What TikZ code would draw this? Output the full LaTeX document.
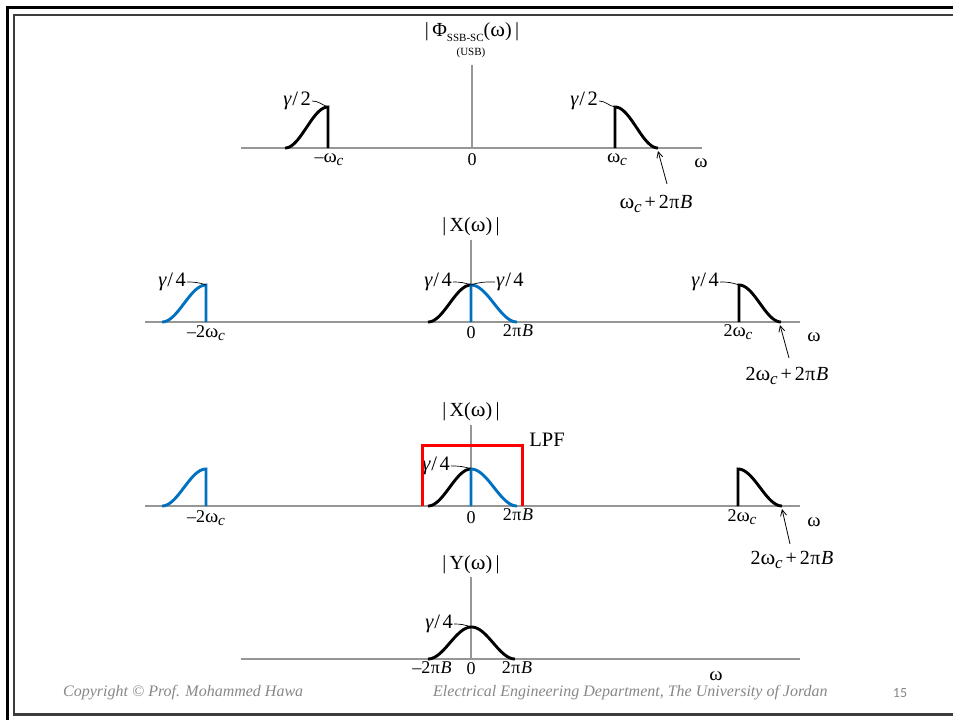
\documentclass[tikz,border=0pt]{standalone}
\usepackage{fontspec}
\setmainfont{Liberation Serif}
\newfontfamily\numfont{Carlito}
\usetikzlibrary{arrows.meta}
\definecolor{axisgray}{RGB}{150,150,150}
\definecolor{sigblue}{RGB}{0,112,192}
\definecolor{lpfred}{RGB}{255,0,0}
\definecolor{footgray}{RGB}{135,135,135}
\definecolor{innerframe}{RGB}{60,60,60}
\newcommand\om{\scalebox{1.12}[1.05]{ω}}
\newcommand\wc{\om\kern-0.3pt\raisebox{-0.18em}{\itshape\scalebox{0.85}{c}}}
\newcommand\gam[1]{{\itshape γ}\kern1pt/\kern2.5pt#1}
\newcommand\tpB{2\kern0.5pt π\kern0.5pt{\itshape B}}
\begin{document}
\begin{tikzpicture}[x=1pt,y=-1pt,
  axis/.style={draw=axisgray,line width=1.3pt},
  sig/.style={draw=black,line width=2.9pt},
  bsig/.style={draw=sigblue,line width=2.9pt},
  lpf/.style={draw=lpfred,line width=3pt},
  leader/.style={draw=black,line width=0.7pt},
  pointer/.style={draw=black,line width=0.8pt,-{Straight Barb[length=6pt,width=6pt]}},
  tick/.style={font=\fontsize{18}{20}\selectfont,inner sep=0pt},
  glab/.style={font=\fontsize{20.5}{22}\selectfont,inner sep=0pt},
  plab/.style={font=\fontsize{20}{22}\selectfont,inner sep=0pt},
  ttl/.style={font=\fontsize{20}{22}\selectfont,inner sep=0pt},
  foot/.style={font=\fontsize{16}{18}\selectfont\itshape,text=footgray,inner sep=0pt},
]
\useasboundingbox (0,0) rectangle (953,720);
% frame
\draw[line width=3pt] (7.5,720) -- (7.5,7.5) -- (953,7.5);
\draw[innerframe,line width=2.2pt] (953,14.8) -- (14,14.8) -- (14,714.5) -- (953,714.5);

% ---------------- panel 1
\draw[axis] (241,148) -- (702,148);
\draw[axis] (472,148) -- (472,65);
\node[ttl] (t1) at (472,32) {|\,Φ\raisebox{-0.25em}{\fontsize{11}{12}\selectfont SSB-SC}(\om)\,|};
\node[font=\fontsize{11}{12}\selectfont,inner sep=0pt] (usb) at (471,53) {(USB)};
\draw[sig] plot[domain=0:1,samples=40,variable=\t] ({285+43*\t},{148-41*(1-cos(180*\t))/2}) -- (328,148);
\draw[sig] (615,148) -- plot[domain=0:1,samples=40,variable=\t] ({615+43*\t},{107+41*(1-cos(180*\t))/2});
\coordinate (pk1a) at (328,107);
\coordinate (pk1b) at (615,107);
\node[glab,anchor=east] (g1a) at (311,101) {\gam{2}};
\node[glab,anchor=east] (g1b) at (598,101) {\gam{2}};
\draw[leader] ([xshift=1pt]g1a.east) to[out=0,in=160] (pk1a);
\draw[leader] ([xshift=1pt]g1b.east) to[out=0,in=170] (pk1b);
\node[tick] (m1) at (329,160) {–\wc};
\node[tick] (z1) at (472,160) {0};
\node[tick] (p1) at (617,160) {\wc};
\node[tick] (o1) at (701,163) {\om};
\coordinate (e1) at (658,151);
\coordinate (s1) at (667,184);
\node[plab] (l1) at (656,204) {\wc\kern3pt+\kern3pt\tpB};
\draw[pointer] (s1) -- (e1);

% ---------------- panel 2
\draw[axis] (145,322) -- (800,322);
\draw[axis] (471,322) -- (471,240);
\node[ttl] (t2) at (471,227) {|\,X(\om)\,|};
\draw[bsig] plot[domain=0:1,samples=40,variable=\t] ({162+44*\t},{322-37*(1-cos(180*\t))/2}) -- (206,322);
\draw[sig] plot[domain=0:1,samples=40,variable=\t] ({428+43*\t},{322-37*(1-cos(180*\t))/2});
\draw[bsig] (471,322) -- plot[domain=0:1,samples=40,variable=\t] ({471+46*\t},{285+37*(1-cos(180*\t))/2});
\draw[sig] (739,322) -- plot[domain=0:1,samples=40,variable=\t] ({739+42*\t},{285+37*(1-cos(180*\t))/2});
\coordinate (pk2a) at (206,285);
\coordinate (pk2b) at (471,285);
\coordinate (pk2c) at (739,285);
\node[glab,anchor=east] (g2a) at (186,282) {\gam{4}};
\node[glab,anchor=east] (g2b) at (452,282) {\gam{4}};
\node[glab,anchor=west] (g2c) at (496,282) {\gam{4}};
\node[glab,anchor=east] (g2d) at (719,282) {\gam{4}};
\draw[leader] ([xshift=1pt]g2a.east) to[out=0,in=160] (pk2a);
\draw[leader] ([xshift=1pt]g2b.east) to[out=0,in=160] (pk2b);
\draw[leader] (pk2b) to[out=20,in=180] ([xshift=-1pt]g2c.west);
\draw[leader] ([xshift=1pt]g2d.east) to[out=0,in=160] (pk2c);
\node[tick] (m2) at (206,333) {–2\wc};
\node[tick] (z2) at (471,333) {0};
\node[tick] (b2) at (518,331) {\tpB};
\node[tick] (p2) at (738,332) {2\wc};
\node[tick] (o2) at (814,337) {\om};
\coordinate (e2) at (780,325);
\coordinate (s2) at (789,358);
\node[plab] (l2) at (787,376) {2\wc\kern3pt+\kern3pt\tpB};
\draw[pointer] (s2) -- (e2);

% ---------------- panel 3
\draw[axis] (145,506) -- (800,506);
\draw[axis] (471,506) -- (471,425);
\node[ttl] (t3) at (471,412) {|\,X(\om)\,|};
\draw[bsig] plot[domain=0:1,samples=40,variable=\t] ({162+44*\t},{506-37*(1-cos(180*\t))/2}) -- (206,506);
\draw[sig] plot[domain=0:1,samples=40,variable=\t] ({428+43*\t},{506-37*(1-cos(180*\t))/2});
\draw[bsig] (471,506) -- plot[domain=0:1,samples=40,variable=\t] ({471+46*\t},{469+37*(1-cos(180*\t))/2});
\draw[sig] (738,506) -- plot[domain=0:1,samples=40,variable=\t] ({738+44*\t},{469+37*(1-cos(180*\t))/2});
\coordinate (pk3) at (471,469);
\node[glab,anchor=east] (g3) at (450,466) {\gam{4}};
\draw[leader] ([xshift=1pt]g3.east) to[out=0,in=160] (pk3);
\draw[lpf] (422,506) -- (422,445) -- (522,445) -- (522,506);
\node[glab] (lpf) at (547,440) {LPF};
\node[tick] (m3) at (206,518) {–2\wc};
\node[tick] (z3) at (471,518) {0};
\node[tick] (b3) at (518,515) {\tpB};
\node[tick] (p3) at (742,517) {2\wc};
\node[tick] (o3) at (814,522) {\om};
\coordinate (e3) at (782,509);
\coordinate (s3) at (790,544);
\node[plab] (l3) at (792,560) {2\wc\kern3pt+\kern3pt\tpB};
\draw[pointer] (s3) -- (e3);

% ---------------- panel 4
\draw[axis] (241,659) -- (800,659);
\draw[axis] (471,659) -- (471,577);
\node[ttl] (t4) at (471,565) {|\,Y(\om)\,|};
\draw[sig] plot[domain=0:1,samples=60,variable=\t] ({428+87*\t},{659-32*(1-cos(360*\t))/2});
\coordinate (pk4) at (471,627);
\node[glab,anchor=east] (g4) at (453,624) {\gam{4}};
\draw[leader] ([xshift=1pt]g4.east) to[out=0,in=160] (pk4);
\node[tick] (m4) at (432,668) {–\tpB};
\node[tick] (z4) at (471,669) {0};
\node[tick] (b4) at (517,668) {\tpB};
\node[tick] (o4) at (716,676) {\om};

% ---------------- footer
\node[foot,anchor=west] (cpy) at (63,693) {Copyright © Prof. Mohammed Hawa};
\node[foot,anchor=west] (dept) at (433,693) {Electrical Engineering Department, The University of Jordan};
\node[font=\numfont\fontsize{14}{16}\selectfont,text=footgray,inner sep=0pt] (pg) at (900,693) {15};
\end{tikzpicture}
\end{document}
